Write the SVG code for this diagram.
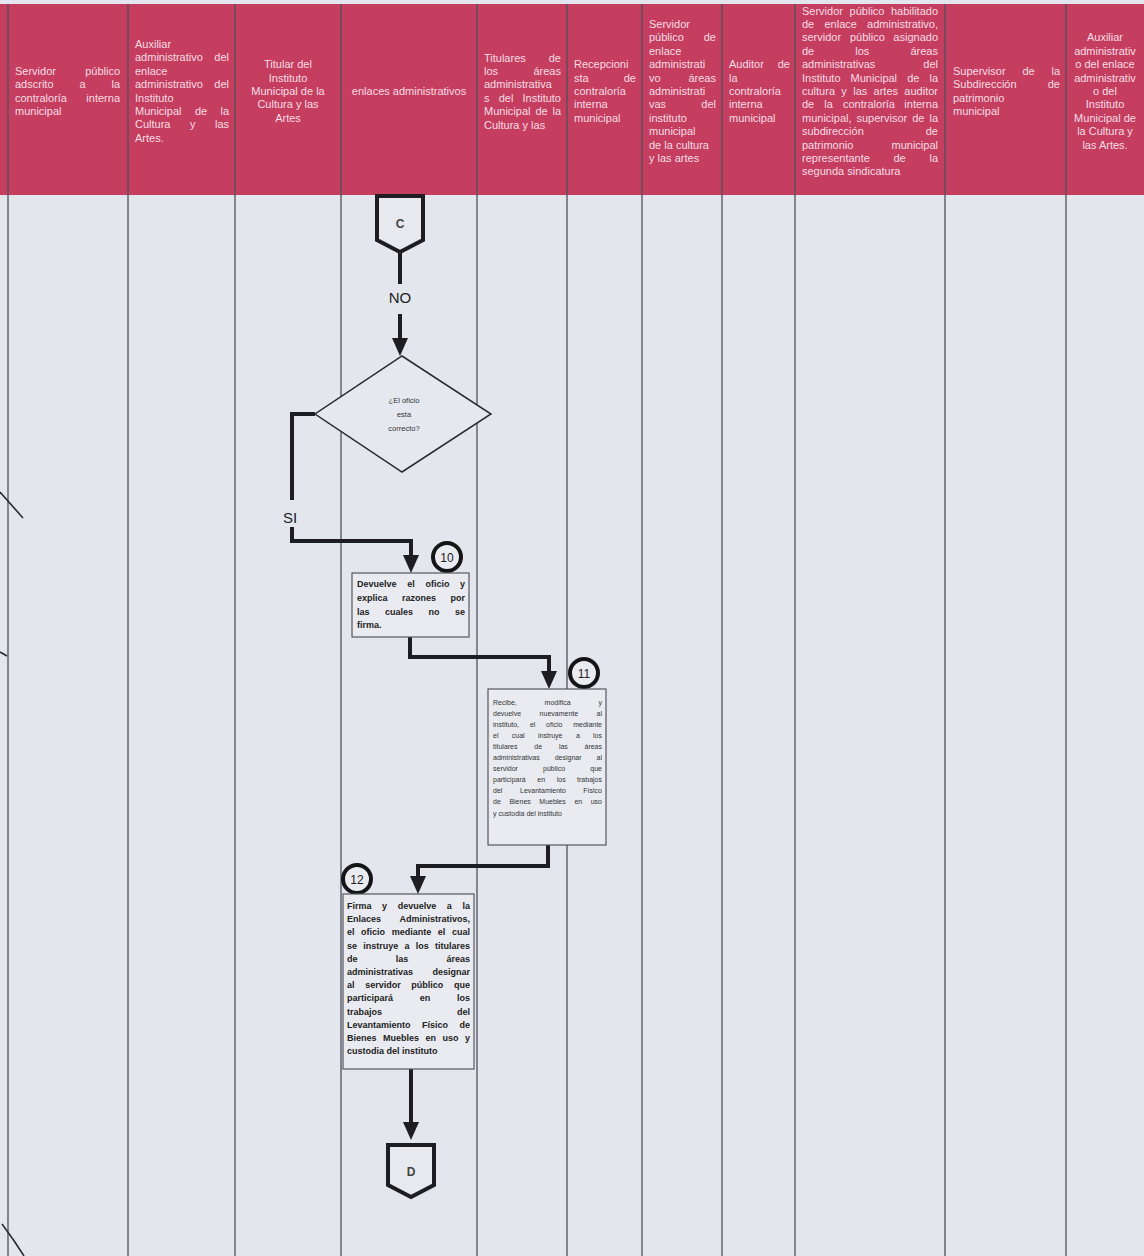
<svg xmlns="http://www.w3.org/2000/svg" width="1144" height="1256" viewBox="0 0 1144 1256">
<style>
.h{font-family:"Liberation Sans",Arial,sans-serif;font-size:11px;fill:#f6dde4}
.hc{font-family:"Liberation Sans",Arial,sans-serif;font-size:11px;fill:#f6dde4;text-anchor:middle}
.e{text-anchor:end}
.lane{stroke:#4f4f5a;stroke-width:1.3}
.con{fill:none;stroke:#1e1e22;stroke-width:4;stroke-linejoin:miter}
.box{fill:#eaebf1;stroke:#55555f;stroke-width:1.2}
.b8{font-family:"Liberation Sans",Arial,sans-serif;font-size:9px;font-weight:bold;fill:#222}
.s6{font-family:"Liberation Sans",Arial,sans-serif;font-size:7px;fill:#333}
.d7{font-family:"Liberation Sans",Arial,sans-serif;font-size:7.5px;fill:#333;text-anchor:middle}
.lbl{font-family:"Liberation Sans",Arial,sans-serif;font-size:15px;fill:#222;text-anchor:middle}
.num{fill:#eaebf1;stroke:#151518;stroke-width:4}
.numt{font-family:"Liberation Sans",Arial,sans-serif;font-size:12px;fill:#222;text-anchor:middle}
.off{fill:#e8e9ef;stroke:#1e1e22;stroke-width:4;stroke-linejoin:miter}
.offt{font-family:"Liberation Sans",Arial,sans-serif;font-size:12px;font-weight:bold;fill:#444;text-anchor:middle}
.pen{fill:none;stroke:#2a2a35;stroke-width:1.6}
</style>
<defs>
<marker id="arr" markerUnits="userSpaceOnUse" markerWidth="18" markerHeight="16" refX="2" refY="8" orient="auto" viewBox="0 0 18 16"><path d="M0,0 L18,8 L0,16 Z" fill="#1e1e22"/></marker>
</defs>
<rect x="0" y="0" width="1144" height="1256" fill="#e4e6ee"/>
<rect x="0" y="4" width="1144" height="191" fill="#c53e60"/>
<g id="lanes">
<line class="lane" x1="8" y1="4" x2="8" y2="1256"/>
<line class="lane" x1="128" y1="4" x2="128" y2="1256"/>
<line class="lane" x1="235" y1="4" x2="235" y2="1256"/>
<line class="lane" x1="341" y1="4" x2="341" y2="1256"/>
<line class="lane" x1="477" y1="4" x2="477" y2="1256"/>
<line class="lane" x1="567" y1="4" x2="567" y2="1256"/>
<line class="lane" x1="642" y1="4" x2="642" y2="1256"/>
<line class="lane" x1="722" y1="4" x2="722" y2="1256"/>
<line class="lane" x1="795" y1="4" x2="795" y2="1256"/>
<line class="lane" x1="945" y1="4" x2="945" y2="1256"/>
<line class="lane" x1="1066" y1="4" x2="1066" y2="1256"/>
</g>
<g id="header">
<g id="h1" class="h">
<text x="15" y="75">Servidor</text><text class="e" x="120" y="75">público</text>
<text x="15" y="88.4">adscrito</text><text x="79.4" y="88.4">a</text><text class="e" x="120" y="88.4">la</text>
<text x="15" y="101.8">contraloría</text><text class="e" x="120" y="101.8">interna</text>
<text x="15" y="115.2">municipal</text>
</g>
<g id="h2" class="h">
<text x="135" y="48">Auxiliar</text>
<text x="135" y="61.4">administrativo</text><text class="e" x="229" y="61.4">del</text>
<text x="135" y="74.8">enlace</text>
<text x="135" y="88.2">administrativo</text><text class="e" x="229" y="88.2">del</text>
<text x="135" y="101.6">Instituto</text>
<text x="135" y="115">Municipal</text><text x="194.9" y="115">de</text><text class="e" x="229" y="115">la</text>
<text x="135" y="128.4">Cultura</text><text x="190" y="128.4">y</text><text class="e" x="229" y="128.4">las</text>
<text x="135" y="141.8">Artes.</text>
</g>
<g id="h3" class="hc">
<text x="288" y="68.2">Titular del</text>
<text x="288" y="81.6">Instituto</text>
<text x="288" y="95">Municipal de la</text>
<text x="288" y="108.4">Cultura y las</text>
<text x="288" y="121.8">Artes</text>
</g>
<g id="h4" class="hc"><text x="409" y="95">enlaces administrativos</text></g>
<g id="h5" class="h">
<text x="484" y="61.5">Titulares</text><text class="e" x="561" y="61.5">de</text>
<text x="484" y="74.9">los</text><text class="e" x="561" y="74.9">áreas</text>
<text x="484" y="88.3">administrativa</text>
<text x="484" y="101.7">s</text><text x="498.7" y="101.7">del</text><text class="e" x="561" y="101.7">Instituto</text>
<text x="484" y="115.1">Municipal</text><text x="535.4" y="115.1">de</text><text class="e" x="561" y="115.1">la</text>
<text x="484" y="128.5">Cultura y las</text>
</g>
<g id="h6" class="h">
<text x="574" y="68.2">Recepcioni</text>
<text x="574" y="81.6">sta</text><text class="e" x="636" y="81.6">de</text>
<text x="574" y="95">contraloría</text>
<text x="574" y="108.4">interna</text>
<text x="574" y="121.8">municipal</text>
</g>
<g id="h7" class="h">
<text x="649" y="28">Servidor</text>
<text x="649" y="41.4">público</text><text class="e" x="716" y="41.4">de</text>
<text x="649" y="54.8">enlace</text>
<text x="649" y="68.2">administrati</text>
<text x="649" y="81.6">vo</text><text class="e" x="716" y="81.6">áreas</text>
<text x="649" y="95">administrati</text>
<text x="649" y="108.4">vas</text><text class="e" x="716" y="108.4">del</text>
<text x="649" y="121.8">instituto</text>
<text x="649" y="135.2">municipal</text>
<text x="649" y="148.6">de la cultura</text>
<text x="649" y="162">y las artes</text>
</g>
<g id="h8" class="h">
<text x="729" y="68.2">Auditor</text><text class="e" x="790" y="68.2">de</text>
<text x="729" y="81.6">la</text>
<text x="729" y="95">contraloría</text>
<text x="729" y="108.4">interna</text>
<text x="729" y="121.8">municipal</text>
</g>
<g id="h9" class="h">
<text x="802" y="14.6">Servidor</text><text x="849.6" y="14.6">público</text><text class="e" x="938" y="14.6">habilitado</text>
<text x="802" y="28">de</text><text x="824.5" y="28">enlace</text><text class="e" x="938" y="28">administrativo,</text>
<text x="802" y="41.4">servidor</text><text x="849.9" y="41.4">público</text><text class="e" x="938" y="41.4">asignado</text>
<text x="802" y="54.8">de</text><text x="855.3" y="54.8">los</text><text class="e" x="938" y="54.8">áreas</text>
<text x="802" y="68.2">administrativas</text><text class="e" x="938" y="68.2">del</text>
<text x="802" y="81.6">Instituto</text><text x="850.6" y="81.6">Municipal</text><text x="907.2" y="81.6">de</text><text class="e" x="938" y="81.6">la</text>
<text x="802" y="95">cultura</text><text x="841.3" y="95">y</text><text x="853.2" y="95">las</text><text x="873.6" y="95">artes</text><text class="e" x="938" y="95">auditor</text>
<text x="802" y="108.4">de</text><text x="824.3" y="108.4">la</text><text x="843" y="108.4">contraloría</text><text class="e" x="938" y="108.4">interna</text>
<text x="802" y="121.8">municipal,</text><text x="856.5" y="121.8">supervisor</text><text x="912.2" y="121.8">de</text><text class="e" x="938" y="121.8">la</text>
<text x="802" y="135.2">subdirección</text><text class="e" x="938" y="135.2">de</text>
<text x="802" y="148.6">patrimonio</text><text class="e" x="938" y="148.6">municipal</text>
<text x="802" y="162">representante</text><text x="893.5" y="162">de</text><text class="e" x="938" y="162">la</text>
<text x="802" y="175.4">segunda sindicatura</text>
</g>
<g id="h10" class="h">
<text x="953" y="75">Supervisor</text><text x="1022.4" y="75">de</text><text class="e" x="1060" y="75">la</text>
<text x="953" y="88.4">Subdirección</text><text class="e" x="1060" y="88.4">de</text>
<text x="953" y="101.8">patrimonio</text>
<text x="953" y="115.2">municipal</text>
</g>
<g id="h11" class="hc">
<text x="1105" y="41.4">Auxiliar</text>
<text x="1105" y="54.8">administrativ</text>
<text x="1105" y="68.2">o del enlace</text>
<text x="1105" y="81.6">administrativ</text>
<text x="1105" y="95">o del</text>
<text x="1105" y="108.4">Instituto</text>
<text x="1105" y="121.8">Municipal de</text>
<text x="1105" y="135.2">la Cultura y</text>
<text x="1105" y="148.6">las Artes.</text>
</g>
</g>
<g id="connectors">
<path class="con" d="M400,252 V284"/>
<path class="con" d="M400,314 V340" marker-end="url(#arr)"/>
<path class="con" d="M315,414 H292 V500"/>
<path class="con" d="M292,527 V541 H411 V557" marker-end="url(#arr)"/>
<path class="con" d="M410,637 V657 H549 V673" marker-end="url(#arr)"/>
<path class="con" d="M548,845 V866 H418 V878" marker-end="url(#arr)"/>
<path class="con" d="M411,1069 V1124" marker-end="url(#arr)"/>
<text class="lbl" x="400" y="303">NO</text>
<text class="lbl" x="290" y="523">SI</text>
</g>
<g id="offC">
<path class="off" d="M377,196 L377,240 L400,252 L423,240 L423,196 Z"/>
<text class="offt" x="400" y="228">C</text>
</g>
<g id="decision">
<polygon points="402,356 491,414 402,472 315,414" fill="#e6e8ef" stroke="#2a2a30" stroke-width="1.5"/>
<text class="d7" x="404" y="403">¿El oficio</text>
<text class="d7" x="404" y="417">esta</text>
<text class="d7" x="404" y="431">correcto?</text>
</g>
<g id="step10">
<circle class="num" cx="447" cy="557" r="14"/>
<text class="numt" x="447" y="561.5">10</text>
<rect class="box" x="352" y="573" width="117" height="64"/>
<g class="b8">
<text x="357" y="587">Devuelve</text><text x="407.2" y="587">el</text><text x="425.4" y="587">oficio</text><text class="e" x="465" y="587">y</text>
<text x="357" y="601">explica</text><text x="402" y="601">razones</text><text class="e" x="465" y="601">por</text>
<text x="357" y="615">las</text><text x="385" y="615">cuales</text><text x="428.5" y="615">no</text><text class="e" x="465" y="615">se</text>
<text x="357" y="628">firma.</text>
</g>
</g>
<g id="step11">
<circle class="num" cx="584" cy="673" r="14"/>
<text class="numt" x="584" y="677.5">11</text>
<rect class="box" x="488" y="689" width="118" height="156"/>
<g class="s6">
<text x="493" y="704.5">Recibe,</text><text x="544.6" y="704.5">modifica</text><text class="e" x="602" y="704.5">y</text>
<text x="493" y="715.6">devuelve</text><text x="539.6" y="715.6">nuevamente</text><text class="e" x="602" y="715.6">al</text>
<text x="493" y="726.7">instituto,</text><text x="529.9" y="726.7">el</text><text x="546.1" y="726.7">oficio</text><text class="e" x="602" y="726.7">mediante</text>
<text x="493" y="737.8">el</text><text x="511.8" y="737.8">cual</text><text x="538" y="737.8">instruye</text><text x="575.9" y="737.8">a</text><text class="e" x="602" y="737.8">los</text>
<text x="493" y="748.9">titulares</text><text x="534.3" y="748.9">de</text><text x="558.9" y="748.9">las</text><text class="e" x="602" y="748.9">áreas</text>
<text x="493" y="760">administrativas</text><text x="554.7" y="760">designar</text><text class="e" x="602" y="760">al</text>
<text x="493" y="771.1">servidor</text><text x="543" y="771.1">público</text><text class="e" x="602" y="771.1">que</text>
<text x="493" y="782.2">participará</text><text x="537.3" y="782.2">en</text><text x="556.7" y="782.2">los</text><text class="e" x="602" y="782.2">trabajos</text>
<text x="493" y="793.3">del</text><text x="520" y="793.3">Levantamiento</text><text class="e" x="602" y="793.3">Físico</text>
<text x="493" y="804.4">de</text><text x="509.4" y="804.4">Bienes</text><text x="539.3" y="804.4">Muebles</text><text x="574.4" y="804.4">en</text><text class="e" x="602" y="804.4">uso</text>
<text x="493" y="815.5">y custodia del instituto</text>
</g>
</g>
<g id="step12">
<circle class="num" cx="357" cy="879" r="14"/>
<text class="numt" x="357" y="883.5">12</text>
<rect class="box" x="343" y="894" width="131" height="175"/>
<g class="b8">
<text x="347" y="909">Firma</text><text x="382.1" y="909">y</text><text x="397.7" y="909">devuelve</text><text x="446.8" y="909">a</text><text class="e" x="470" y="909">la</text>
<text x="347" y="922.2">Enlaces</text><text class="e" x="470" y="922.2">Administrativos,</text>
<text x="347" y="935.4">el</text><text x="361.1" y="935.4">oficio</text><text x="391.7" y="935.4">mediante</text><text x="437.8" y="935.4">el</text><text class="e" x="470" y="935.4">cual</text>
<text x="347" y="948.6">se</text><text x="363.3" y="948.6">instruye</text><text x="404.5" y="948.6">a</text><text x="415.8" y="948.6">los</text><text class="e" x="470" y="948.6">titulares</text>
<text x="347" y="961.8">de</text><text x="395.8" y="961.8">las</text><text class="e" x="470" y="961.8">áreas</text>
<text x="347" y="975">administrativas</text><text class="e" x="470" y="975">designar</text>
<text x="347" y="988.2">al</text><text x="365.2" y="988.2">servidor</text><text x="411.3" y="988.2">público</text><text class="e" x="470" y="988.2">que</text>
<text x="347" y="1001.4">participará</text><text x="419.8" y="1001.4">en</text><text class="e" x="470" y="1001.4">los</text>
<text x="347" y="1014.6">trabajos</text><text class="e" x="470" y="1014.6">del</text>
<text x="347" y="1027.8">Levantamiento</text><text x="422" y="1027.8">Físico</text><text class="e" x="470" y="1027.8">de</text>
<text x="347" y="1041">Bienes</text><text x="383" y="1041">Muebles</text><text x="425.5" y="1041">en</text><text x="442.5" y="1041">uso</text><text class="e" x="470" y="1041">y</text>
<text x="347" y="1054.2">custodia del instituto</text>
</g>
</g>
<g id="offD">
<path class="off" d="M388,1145 L388,1185 L411,1197 L434,1185 L434,1145 Z"/>
<text class="offt" x="411" y="1176">D</text>
</g>
<g id="marks">
<path class="pen" d="M0,492 L23,518"/>
<path class="pen" d="M0,652 L7,656"/>
<path class="pen" d="M2,1224 Q14,1240 24,1256"/>
</g>
</svg>
